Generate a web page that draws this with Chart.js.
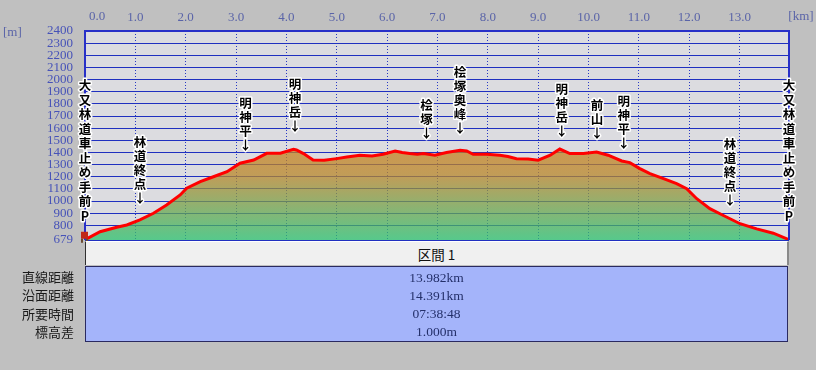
<!DOCTYPE html>
<html lang="ja">
<head>
<meta charset="UTF-8">
<title>断面図</title>
<script src="https://cdn.jsdelivr.net/npm/chart.js"></script>
<style>
    body {
        margin: 0;
        background: #c0c0c0;
        width: 816px;
        height: 370px;
        overflow: hidden;
        position: relative;
        font-family: "Noto Sans CJK JP", sans-serif;
    }
    #profile {
        position: absolute;
        left: 0;
        top: 0;
    }
    .row-label {
        position: absolute;
        left: 0;
        width: 74px;
        text-align: right;
        font-size: 13px;
        color: #1a1a1a;
        line-height: 18px;
    }
    #sectionHead {
        position: absolute;
        left: 85px;
        top: 241px;
        width: 701px;
        height: 23px;
        background: #f0f0f0;
        border-left: 1px solid #303030;
        border-top: 1px solid #ffffff;
        border-right: 2px solid #8a8a8a;
        text-align: center;
        line-height: 24px;
        font-size: 13.5px;
        color: #111;
    }
    #sectionBody {
        position: absolute;
        left: 85px;
        top: 266px;
        width: 701px;
        height: 72px;
        background: #a4b4fa;
        border: 1px solid #2a2a60;
        padding-top: 2px;
    }
    .val {
        text-align: center;
        font-family: "Liberation Serif", serif;
        font-size: 13.5px;
        color: #24306a;
        height: 18px;
        line-height: 18px;
    }
</style>
</head>
<body>
<canvas id="profile" width="816" height="370"></canvas>
<div id="sectionHead"></div>
<div id="sectionBody"></div>

<script>
// 距離 [km] と 標高 [m]
const distKm = [0, 0.30, 0.63, 0.83, 1.09, 1.36, 1.62, 1.89, 2.02, 2.29, 2.55, 2.82, 3.08, 3.35,
    3.61, 3.88, 4.14, 4.20, 4.34, 4.53, 4.75, 5.00, 5.20, 5.46, 5.70, 5.92, 6.16, 6.30, 6.45,
    6.60, 6.72, 6.95, 7.18, 7.45, 7.58, 7.71, 7.98, 8.24, 8.40, 8.57, 8.80, 9.00, 9.24, 9.43,
    9.63, 9.90, 10.16, 10.39, 10.66, 10.82, 11.02, 11.22, 11.49, 11.75, 11.95, 12.15, 12.41,
    12.68, 13.01, 13.34, 13.67, 13.94, 13.982];
const altM = [681, 747, 784, 803, 844, 899, 967, 1050, 1105, 1159, 1200, 1241, 1311, 1338,
    1393, 1393, 1426, 1420, 1391, 1338, 1335, 1349, 1362, 1377, 1370, 1385, 1412, 1400, 1391,
    1385, 1391, 1377, 1399, 1418, 1412, 1385, 1385, 1377, 1366, 1349, 1345, 1336, 1377, 1428,
    1391, 1391, 1404, 1377, 1330, 1316, 1267, 1226, 1184, 1143, 1102, 1019, 937,
    881, 813, 771, 735, 689, 681];

const xTicks = [0, 1, 2, 3, 4, 5, 6, 7, 8, 9, 10, 11, 12, 13];
const yTicks = [679, 800, 900, 1000, 1100, 1200, 1300, 1400, 1500, 1600, 1700, 1800,
    1900, 2000, 2100, 2200, 2300, 2400];

// 地点名
const placeNames = ['大又林道車止め手前P', '林道終点', '明神平', '明神岳', '桧塚', '桧塚奥峰',
    '明神岳', '前山', '明神平', '林道終点', '大又林道車止め手前P'];
const placeKm = [0, 1.09, 3.19, 4.17, 6.78, 7.45, 9.47, 10.17, 10.70, 12.81, 13.982];
const placeTipAlt = [827, 975, 1412, 1563, 1508, 1552, 1521, 1511, 1428, 959, 827];
const placeArrow = [false, true, true, true, true, true, true, true, true, true, false];

// 区間表
const sectionName = '区間 1';
const rowLabels = ['直線距離', '沿面距離', '所要時間', '標高差'];
const rowValues = ['13.982km', '14.391km', '07:38:48', '1.000m'];

document.getElementById('sectionHead').textContent = sectionName;
const body = document.getElementById('sectionBody');
rowLabels.forEach((lab, i) => {
    const l = document.createElement('div');
    l.className = 'row-label';
    l.style.top = (268 + i * 18.3) + 'px';
    l.textContent = lab;
    document.body.appendChild(l);
    const v = document.createElement('div');
    v.className = 'val';
    v.textContent = rowValues[i];
    body.appendChild(v);
});

const decor = {
    id: 'decor',
    beforeDraw(chart) {
        const {ctx, chartArea: a} = chart;
        ctx.save();
        ctx.fillStyle = '#dcdce0';
        ctx.fillRect(a.left, a.top, a.right - a.left, a.bottom - a.top);
        ctx.restore();
    },
    afterDraw(chart) {
        const {ctx, chartArea: a} = chart;
        const xs = chart.scales.x, ys = chart.scales.y;
        ctx.save();
        // frame
        ctx.strokeStyle = '#2830c8';
        ctx.lineWidth = 2;
        ctx.beginPath();
        ctx.moveTo(a.left, a.bottom);
        ctx.lineTo(a.left, a.top);
        ctx.lineTo(a.right, a.top);
        ctx.lineTo(a.right, a.bottom);
        ctx.stroke();

        // units and first tick
        ctx.font = '13px "Liberation Serif"';
        ctx.fillStyle = '#5a64a8';
        ctx.textBaseline = 'middle';
        ctx.textAlign = 'center';
        ctx.fillText('0.0', xs.getPixelForValue(0) + 12, 17);
        ctx.fillText('[km]', 801, 17);
        ctx.textAlign = 'left';
        ctx.fillText('[m]', 3, 33);

        // hiker mark at start
        const sx = xs.getPixelForValue(distKm[0]), sy = ys.getPixelForValue(altM[0]);
        ctx.fillStyle = '#c02818';
        ctx.fillRect(sx - 4, sy - 8, 7, 7);
        ctx.fillStyle = '#6a4a30';
        ctx.fillRect(sx - 4, sy - 1, 2, 4);
        ctx.fillRect(sx + 1, sy - 1, 2, 4);

        // place names
        ctx.font = 'bold 12.5px "Noto Sans CJK JP"';
        ctx.textAlign = 'center';
        ctx.textBaseline = 'middle';
        ctx.lineJoin = 'round';
        ctx.lineWidth = 3;
        ctx.strokeStyle = '#ffffff';
        ctx.fillStyle = '#000000';
        placeNames.forEach((name, i) => {
            const glyphs = Array.from(name);
            if (placeArrow[i]) glyphs.push('↓');
            const x = xs.getPixelForValue(placeKm[i]);
            const yLast = ys.getPixelForValue(placeTipAlt[i]) - 6;
            const step = placeArrow[i] ? 14 : 14.5;
            glyphs.forEach((g, j) => {
                const y = yLast - (glyphs.length - 1 - j) * step;
                ctx.strokeText(g, x, y);
                ctx.fillText(g, x, y);
            });
        });
        ctx.restore();
    }
};

const ctx = document.getElementById('profile').getContext('2d');
new Chart(ctx, {
    type: 'line',
    data: {
        datasets: [{
            data: distKm.map((d, i) => ({x: d, y: altM[i]})),
            borderColor: '#ff0000',
            borderWidth: 3,
            pointRadius: 0,
            tension: 0,
            fill: 'start',
            backgroundColor: function(c) {
                const chart = c.chart;
                const a = chart.chartArea;
                if (!a) return 'rgba(0,0,0,0)';
                const top = chart.scales.y.getPixelForValue(1440);
                const g = chart.ctx.createLinearGradient(0, top, 0, a.bottom);
                g.addColorStop(0, 'rgba(200,128,28,0.74)');
                g.addColorStop(0.3, 'rgba(184,134,40,0.74)');
                g.addColorStop(1, 'rgba(40,194,110,0.74)');
                return g;
            }
        }]
    },
    options: {
        responsive: false,
        devicePixelRatio: 1,
        animation: false,
        layout: {padding: {left: 0, top: 0, right: 27, bottom: 130}},
        plugins: {legend: {display: false}, tooltip: {enabled: false}},
        scales: {
            x: {
                type: 'linear',
                position: 'top',
                min: 0,
                max: 13.982,
                afterBuildTicks: s => { s.ticks = xTicks.map(v => ({value: v})); },
                afterFit: s => { s.height = 31; },
                grid: {color: '#2838c4', lineWidth: 1, drawTicks: false},
                border: {display: false, dash: [1, 2]},
                ticks: {
                    padding: 6,
                    color: '#5a64a8',
                    font: {family: 'Liberation Serif', size: 13},
                    maxRotation: 0,
                    autoSkip: false,
                    callback: v => v === 0 ? '' : v.toFixed(1)
                }
            },
            y: {
                type: 'linear',
                min: 679,
                max: 2400,
                afterBuildTicks: s => { s.ticks = yTicks.map(v => ({value: v})); },
                afterFit: s => { s.width = 85; },
                grid: {color: '#2030c0', lineWidth: 1, drawTicks: false},
                border: {display: false},
                ticks: {
                    padding: 12,
                    color: '#4652b8',
                    font: {family: 'Liberation Serif', size: 13},
                    autoSkip: false,
                    callback: v => String(v)
                }
            }
        }
    },
    plugins: [decor]
});
</script>
</body>
</html>
